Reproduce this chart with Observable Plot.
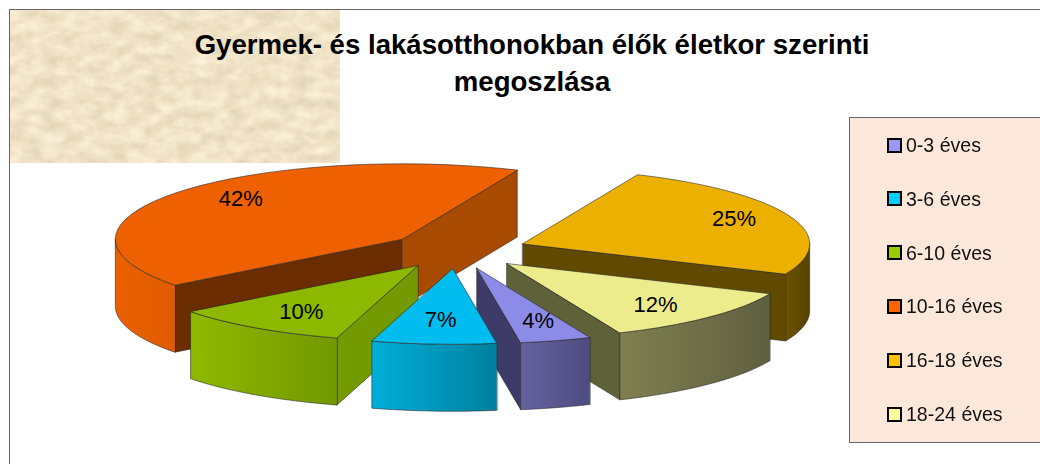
<!DOCTYPE html>
<html><head><meta charset="utf-8">
<script src="https://cdn.jsdelivr.net/npm/d3@7"></script>
<script src="https://cdn.jsdelivr.net/npm/@observablehq/plot@0.6"></script>
<style>
html,body{margin:0;padding:0;width:1040px;height:464px;overflow:hidden;background:#fff;font-family:"Liberation Sans",Arial,sans-serif}
#stage{position:relative;width:1040px;height:464px}
#stage>*{position:absolute}
#border{left:9px;top:9px;right:-2px;bottom:-2px;border:1px solid #666}
#tex{left:10px;top:10px}
#chart{left:0;top:0}
#legend{left:849px;top:117px;width:200px;height:324px;background:#fce8da;border:1px solid #666;box-sizing:content-box}
.item{position:absolute;left:37px;display:flex;align-items:center;font-size:21px;line-height:22px;color:#111;white-space:nowrap}
.sw{width:11px;height:11px;border:2px solid #000;margin-right:4px;display:inline-block}
.lab{display:inline-block;transform:scaleX(0.93);transform-origin:left center}
</style></head><body>
<div id="stage">
<div id="border"></div>
<svg id="tex" width="330" height="153"><filter id="paper" x="0" y="0" width="100%" height="100%" color-interpolation-filters="sRGB"><feTurbulence type="fractalNoise" baseFrequency="0.06 0.09" numOctaves="6" seed="11"/><feColorMatrix type="matrix" values="0.14 0 0 0 0.87  0.16 0 0 0 0.81  0.2 0 0 0 0.68  0 0 0 0 1"/></filter><rect width="330" height="153" filter="url(#paper)"/></svg>
<div id="chart"></div>
<div id="legend"></div>
</div>
<script>
const categories = ["0-3 éves","3-6 éves","6-10 éves","10-16 éves","16-18 éves","18-24 éves"];
const percents = [4,7,10,42,25,12];
const topColors = ["#8c8ce8","#00bcef","#8cb800","#ee6000","#ecb100","#ecec8c"];
const legendColors = ["#9999ff","#00ccff","#99cc00","#ff6600","#ffc000","#ffff99"];
const sideFrom = ["#66629f","#00afd9","#8fb900","#ea6000","#6a5200","#807f50"];
const sideTo = ["#4d4c80","#00809f","#729800","#e05c00","#574300","#5f6040"];
const startFace = [null,null,"#739a00","#6b2c00",null,null];
const endFace = ["#3e3b68",null,null,"#a84a00","#614a00","#5f6138"];
const titleLines = ["Gyermek- és lakásotthonokban élők életkor szerinti","megoszlása"];

// projection of the tilted pie
const cx=457, cy=250, R=287, tilt=0.2627, depth=67, explode=70, labelR=0.75;
const labelDx=[2,2,5,8,11,-3], labelDy=[1.5,-2,3,-2,-1,4];
const toRad=Math.PI/180, startDeg=156.8;
const arcs=d3.pie().sort(null).startAngle(startDeg*toRad).endAngle((startDeg+360)*toRad)(percents);
const dir=a=>[Math.sin(a),-Math.cos(a)];
const proj=(apex,a,r,z=0)=>{const [u,v]=dir(a);return {x:apex[0]+R*r*u,y:apex[1]+R*tilt*r*v+z}};
const slices=arcs.map((d,i)=>{
  const mid=(d.startAngle+d.endAngle)/2,[mu,mv]=dir(mid);
  return {i,a0:d.startAngle,a1:d.endAngle,mid,mv,apex:[cx+explode*mu,cy+explode*tilt*mv],label:percents[i]+"%"};
});
slices.sort((a,b)=>a.mv-b.mv);
const samples=(a0,a1)=>d3.range(0,41).map(k=>a0+(a1-a0)*k/40);
const stroke={stroke:"#2a2a2a",strokeWidth:0.8,strokeOpacity:0.75,curve:"linear-closed"};
const opts=fill=>({x:"x",y:"y",fill,...stroke});
const marks=[];
let defs="";
for(const s of slices){
  const {apex,a0,a1,i}=s;
  const A=(a,z)=>proj(apex,a,1,z), O=z=>({x:apex[0],y:apex[1]+z});
  if(Math.sin(a0)<0&&startFace[i]) marks.push(Plot.line([O(0),A(a0,0),A(a0,depth),O(depth)],opts(startFace[i])));
  if(Math.sin(a1)>0&&endFace[i]) marks.push(Plot.line([O(0),A(a1,0),A(a1,depth),O(depth)],opts(endFace[i])));
  // outer wall: the part of the rim facing the viewer
  const per=[[Math.PI/2,3*Math.PI/2],[Math.PI/2+2*Math.PI,3*Math.PI/2+2*Math.PI]];
  for(const [p,q] of per){
    const b0=Math.max(a0,p),b1=Math.min(a1,q);
    if(b1>b0){
      const top=samples(b0,b1).map(a=>A(a,0)), bot=samples(b1,b0).map(a=>A(a,depth));
      const id="side"+i;
      defs+=`<linearGradient id="${id}"><stop offset="0" stop-color="${sideFrom[i]}"/><stop offset="1" stop-color="${sideTo[i]}"/></linearGradient>`;
      marks.push(Plot.line([...top,...bot],opts(`url(#${id})`)));
    }
  }
  marks.push(Plot.line([O(0),...samples(a0,a1).map(a=>A(a,0))],opts(topColors[i])));
}
const labels=slices.map(s=>{const p=proj(s.apex,s.mid,labelR);return {x:p.x+labelDx[s.i],y:p.y+labelDy[s.i],t:s.label}});
marks.push(Plot.text(labels,{x:"x",y:"y",text:"t",dy:-3,fontSize:22,fill:"#000",fontFamily:"Liberation Sans"}));
marks.push(Plot.text(titleLines,{x:()=>531.5,y:(d,i)=>45+i*37,text:d=>d,fontSize:27.6,fontWeight:"bold",fill:"#000",fontFamily:"Liberation Sans"}));
const svg=Plot.plot({width:1040,height:464,margin:0,
  x:{domain:[0,1040],range:[0,1040],axis:null},y:{domain:[0,464],range:[0,464],axis:null},
  style:{background:"transparent"},marks});
d3.select(svg).insert("defs",":first-child").html(defs);
document.getElementById("chart").append(svg);
const leg=d3.select("#legend");
categories.forEach((c,i)=>{
  const it=leg.append("div").attr("class","item").style("top",(16+i*53.8)+"px");
  it.append("span").attr("class","sw").style("background",legendColors[i]);
  it.append("span").attr("class","lab").text(c);
});
</script></body></html>
